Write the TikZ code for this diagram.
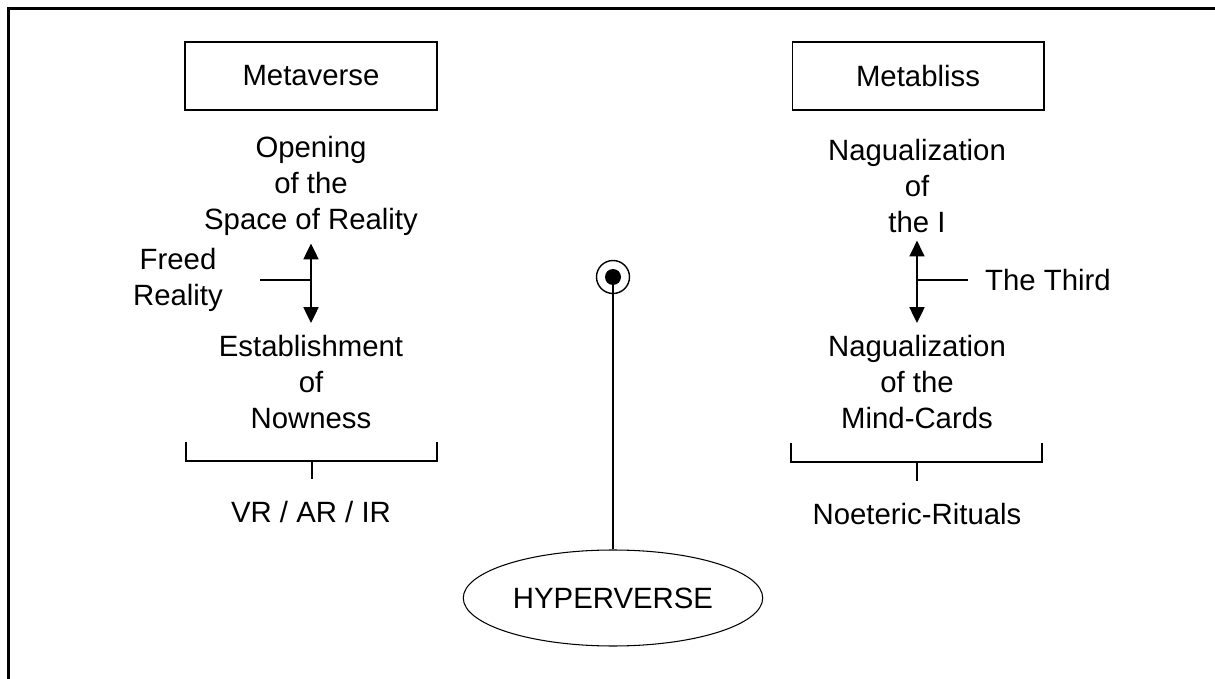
\documentclass[tikz,border=0pt]{standalone}
\usepackage{fontspec}
\setmainfont{Liberation Sans}
\usetikzlibrary{shapes.geometric, positioning, arrows.meta}

\begin{document}
\begin{tikzpicture}[x=0.02cm, y=-0.02cm,
  font=\fontsize{16.7}{20.4}\selectfont,
  box/.style={draw, line width=0.6pt, minimum width=5.04cm, minimum height=1.36cm},
  lines/.style={align=center},
  twoway/.style={{Triangle[length=9pt,width=8.5pt]}-{Triangle[length=9pt,width=8.5pt]},
    line width=1.1pt, shorten <=1pt, shorten >=3.5pt},
  thin line/.style={line width=0.6pt}]
  \useasboundingbox (0,0) rectangle (1215,679);
  \draw[line width=2pt] (8.5,679) -- (8.5,8.5) -- (1215,8.5);

  % left column
  \node[box] (mverse) at (311,76) {Metaverse};
  \node[lines] (opening) at (311,186) {Opening\\of the\\Space of Reality};
  \node[lines] (nowness) at (311,382) {Establishment\\of\\Nowness};
  \node[lines] (freed) at (178,280) {Freed\\Reality};
  \node (vrar) at (311,512) {VR / AR / IR};
  \draw[twoway] (opening) -- (nowness);
  \coordinate (fr) at (260,280);
  \draw[thin line] (fr) -- (fr -| opening);
  \draw[thin line] (186,442) -- (186,461) -- (437,461) -- (437,442)
    (312,461) -- (312,479);

  % right column
  \node[box] (mbliss) at (918,76) {Metabliss};
  \node[lines] (thei) at (917,186) {Nagualization\\of\\the I};
  \node[lines] (cards) at (917,382) {Nagualization\\of the\\Mind-Cards};
  \node (third) at (1048,280) {The Third};
  \node (rituals) at (917,514) {Noeteric-Rituals};
  \draw[twoway] (thei) -- (cards);
  \coordinate (th) at (968,280);
  \draw[thin line] (th) -- (th -| thei);
  \draw[thin line] (791,443) -- (791,462) -- (1042,462) -- (1042,443)
    (917,462) -- (917,481);

  % centre
  \node[circle, draw, line width=0.8pt, minimum size=0.66cm, inner sep=0pt] (target) at (613,277) {};
  \fill (target.center) circle (0.16cm);
  \node[ellipse, draw, thin line, minimum width=5.92cm, minimum height=1.92cm] (hyper) at (613,598) {HYPERVERSE};
  \draw[line width=1pt] (target.center) -- (hyper);
\end{tikzpicture}
\end{document}
